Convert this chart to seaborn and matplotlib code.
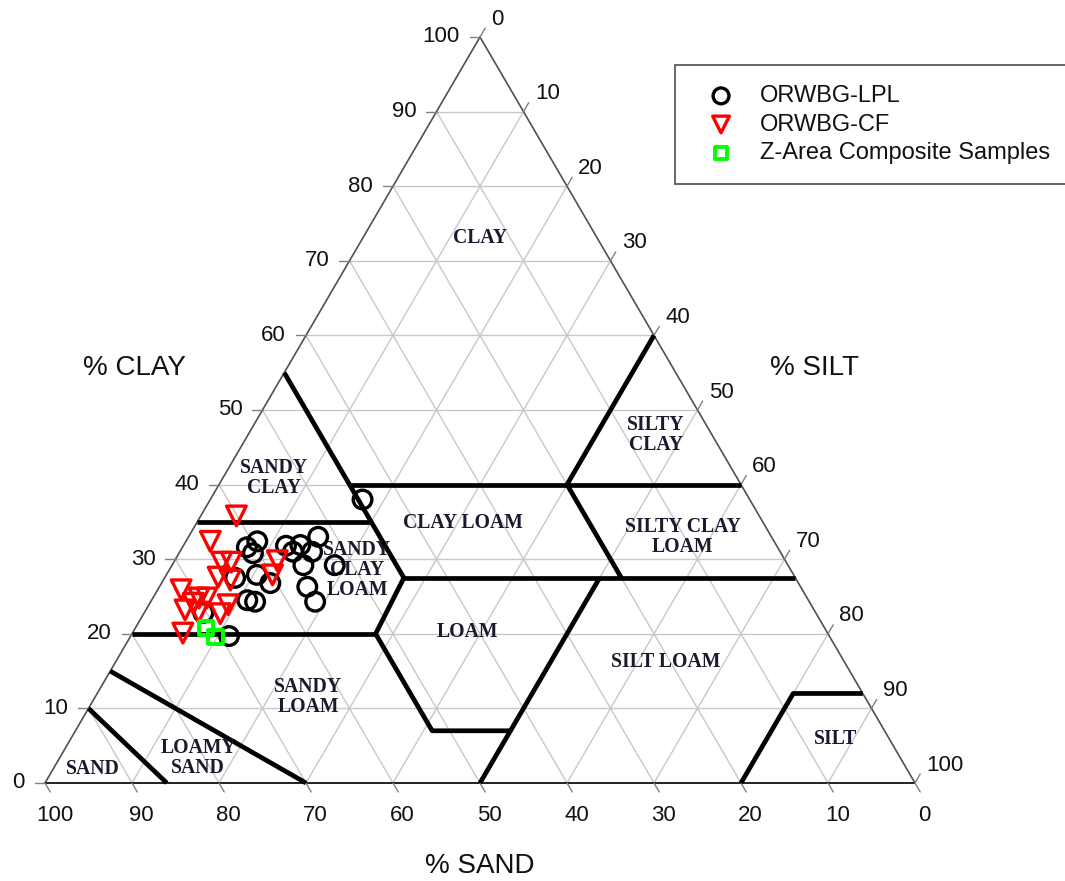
import numpy as np
import pandas as pd
import matplotlib
matplotlib.use("Agg")
import matplotlib.pyplot as plt
import seaborn as sns

# ---- sample compositions (percent sand / silt / clay) ----
lpl_sand = [44.5, 59.4, 61.0, 60.7, 56.4, 54.7, 56.0, 53.8, 52.1, 55.7,
            52.1, 61.7, 60.7, 64.4, 64.5, 63.7, 56.7, 56.8, 69.0, 70.4]
lpl_silt = [17.5, 8.2, 7.4, 8.5, 11.8, 13.4, 13.0, 15.2, 14.9, 15.1,
            18.7, 10.4, 12.5, 8.1, 11.0, 12.0, 17.0, 18.9, 11.3, 6.8]
lpl_clay = [38.0, 32.4, 31.6, 30.8, 31.8, 31.9, 31.0, 31.0, 33.0, 29.2,
            29.2, 27.9, 26.8, 27.5, 24.5, 24.3, 26.3, 24.3, 19.7, 22.8]

cf_sand = [60.1, 64.8, 64.9, 63.8, 66.3, 65.1, 67.0, 71.4, 69.9, 69.0,
           70.9, 72.3, 68.5, 74.1, 59.9, 58.4, 70.9]
cf_silt = [4.1, 2.8, 5.5, 6.6, 6.1, 7.7, 9.1, 2.7, 5.3, 6.2,
           5.0, 4.5, 8.8, 5.8, 12.2, 11.8, 6.2]
cf_clay = [35.8, 32.4, 29.6, 29.6, 27.6, 27.2, 23.9, 25.9, 24.8, 24.8,
           24.1, 23.2, 22.7, 20.1, 27.9, 29.8, 22.9]

za_sand = [71.1, 70.6]
za_silt = [8.1, 9.8]
za_clay = [20.8, 19.6]

series_names = ["ORWBG-LPL", "ORWBG-CF", "Z-Area Composite Samples"]

# ---- USDA texture class boundaries as (silt, clay) polylines ----
boundaries = [
    [(14, 0), (0, 10)],
    [(30, 0), (0, 15)],
    [(0, 20), (28, 20)],
    [(0, 35), (20, 35)],
    [(0, 55), (27.5, 27.5), (28, 20), (41, 7), (50, 7), (50, 0)],
    [(27.5, 27.5), (72.5, 27.5)],
    [(15, 40), (60, 40)],
    [(40, 40), (40, 60)],
    [(40, 40), (52.5, 27.5)],
    [(50, 27.5), (50, 7)],
    [(80, 0), (80, 12), (88, 12)],
]

class_names = ["CLAY", "SILTY\nCLAY", "SANDY\nCLAY", "CLAY LOAM",
               "SILTY CLAY\nLOAM", "SANDY\nCLAY\nLOAM", "LOAM", "SILT LOAM",
               "SANDY\nLOAM", "LOAMY\nSAND", "SAND", "SILT"]
class_silt = [13.5, 46.9, 5.9, 30.6, 56.8, 21.6, 38.5, 63.2, 24.5, 15.9, 4.6, 87.9]
class_clay = [73.0, 46.6, 40.9, 34.9, 33.0, 28.6, 20.2, 16.2, 11.5, 3.4, 1.9, 5.9]

ticks = list(range(0, 101, 10))


def tern(silt, clay):
    """Ternary (silt, clay) -> plotting x, y (y measured in % clay)."""
    silt = np.asarray(silt, dtype=float)
    clay = np.asarray(clay, dtype=float)
    return silt + clay / 2.0, clay


def frame(sand, silt, clay, name):
    x, y = tern(silt, clay)
    return pd.DataFrame({"sand": sand, "silt": silt, "clay": clay,
                         "x": x, "y": y, "group": name})


df_lpl = frame(lpl_sand, lpl_silt, lpl_clay, series_names[0])
df_cf = frame(cf_sand, cf_silt, cf_clay, series_names[1])
df_za = frame(za_sand, za_silt, za_clay, series_names[2])

sns.set_theme(style="white")
plt.rcParams["font.family"] = ["Liberation Sans", "DejaVu Sans"]

fig = plt.figure(figsize=(10.65, 8.81), dpi=100)
ax = fig.add_axes([0, 0, 1, 1])
XLIM = (-45 / 8.7, 1020 / 8.7)
YLIM = (-98 / 7.46, 783 / 7.46)
ax.set_xlim(*XLIM)
ax.set_ylim(*YLIM)
ax.axis("off")

grid_c = "#c8c8c8"
# grid lines every 10 %
for v in ticks[1:-1]:
    x, y = tern([0, 100 - v], [v, v])          # constant clay
    ax.plot(x, y, color=grid_c, lw=1.0, zorder=1)
    x, y = tern([v, v], [0, 100 - v])          # constant silt
    ax.plot(x, y, color=grid_c, lw=1.0, zorder=1)
    x, y = tern([100 - v, 0], [0, 100 - v])    # constant sand
    ax.plot(x, y, color=grid_c, lw=1.0, zorder=1)

# triangle outline
x, y = tern([0, 0], [0, 100])
ax.plot(x, y, color="#505050", lw=1.2, zorder=2)
x, y = tern([0, 100], [100, 0])
ax.plot(x, y, color="#505050", lw=1.2, zorder=2)
x, y = tern([0, 100], [0, 0])
ax.plot(x, y, color="#202020", lw=1.4, zorder=2)

# ticks and tick labels
tick_c = "#808080"
tfs = 16
for v in ticks:
    # clay (left side)
    x, y = tern(0, v)
    ax.plot([x, x - 1.2], [y, y], color=tick_c, lw=1.0, zorder=2)
    ax.text(x - 2.3, y, str(v), ha="right", va="center", fontsize=tfs, color="#111111")
    # sand (bottom)
    x, y = tern(100 - v, 0)
    ax.plot([x, x + 0.6], [y, y - 1.2], color=tick_c, lw=1.0, zorder=2)
    ax.text(x + 1.1, y - 4.3, str(v), ha="center", va="center", fontsize=tfs, color="#111111")
    # silt (right side)
    x, y = tern(v, 100 - v)
    ax.plot([x, x + 0.6], [y, y + 1.2], color=tick_c, lw=1.0, zorder=2)
    ax.text(x + 1.3, y + 2.4, str(v), ha="left", va="center", fontsize=tfs, color="#111111")

# texture class boundaries
for line in boundaries:
    s, c = zip(*line)
    x, y = tern(s, c)
    ax.plot(x, y, color="black", lw=3.4, solid_capstyle="butt", zorder=3)

# texture class names
for name, s, c in zip(class_names, class_silt, class_clay):
    x, y = tern(s, c)
    ax.text(x, y, name, ha="center", va="center", fontsize=14.2,
            fontweight="bold", family=["Liberation Serif", "DejaVu Serif"],
            color="#1a1a2e", linespacing=1.0, zorder=4)

# axis titles
ax.text(10.3, 55.6, "% CLAY", ha="center", va="center", fontsize=20, color="#111111")
ax.text(88.5, 55.6, "% SILT", ha="center", va="center", fontsize=20, color="#111111")
ax.text(50.0, -11.1, "% SAND", ha="center", va="center", fontsize=20, color="#111111")

# sample points
sns.scatterplot(data=df_lpl, x="x", y="y", marker="o", s=180, color="black",
                facecolor="none", edgecolor="black", linewidth=2.4,
                label=series_names[0], ax=ax, zorder=5)
sns.scatterplot(data=df_cf, x="x", y="y", marker="v", s=200, color="#ff0000",
                facecolor="none", edgecolor="#ff0000", linewidth=2.4,
                label=series_names[1], ax=ax, zorder=6)
sns.scatterplot(data=df_za, x="x", y="y", marker="s", s=110, color="#00ff00",
                facecolor="none", edgecolor="#00ff00", linewidth=2.8,
                label=series_names[2], ax=ax, zorder=7)

ax.set_xlim(*XLIM)
ax.set_ylim(*YLIM)

leg = ax.legend(loc="upper left", bbox_to_anchor=(675 / 1065, 1 - 65 / 881),
                bbox_transform=fig.transFigure, borderaxespad=0, frameon=True,
                fancybox=False, edgecolor="#333333", fontsize=17,
                borderpad=0.85, handlelength=2.2, handletextpad=0.55,
                labelspacing=0.28, markerscale=0.85)
leg.get_frame().set_linewidth(1.3)
for t in leg.get_texts():
    t.set_color("#111111")

fig.savefig("out.png", dpi=100, facecolor="white")
